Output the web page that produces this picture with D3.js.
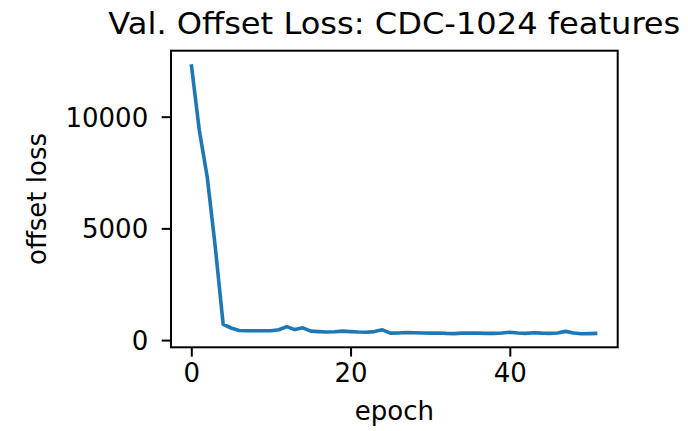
<!DOCTYPE html>
<html>
<head>
<meta charset="utf-8">
<script src="https://cdn.jsdelivr.net/npm/d3@7"></script>
<style>
  html, body { margin: 0; padding: 0; background: #fff; }
  svg { display: block; }
  text { font-family: "DejaVu Sans", sans-serif; fill: #000; }
</style>
</head>
<body>
<svg id="chart" width="688" height="431"></svg>
<script>
// Data
const epochs = d3.range(0, 52);
const offsetLoss = [
  12350, 9400, 7300, 4200, 700, 540, 430, 420, 420, 420,
  420, 460, 600, 470, 550, 400, 380, 360, 370, 400,
  380, 360, 350, 380, 460, 310, 320, 340, 330, 320,
  310, 320, 300, 290, 310, 320, 310, 300, 300, 320,
  350, 320, 300, 330, 310, 300, 320, 390, 320, 280,
  290, 300
];
const xTicks = [0, 20, 40];
const yTicks = [0, 5000, 10000];
const titleText = "Val. Offset Loss: CDC-1024 features";
const xLabel = "epoch";
const yLabel = "offset loss";

const svg = d3.select("#chart");
const mLeft = 171, mRight = 617.7, mTop = 50.7, mBottom = 347.3;

const xMin = d3.min(epochs), xMax = d3.max(epochs);
const xPad = (xMax - xMin) * 0.05;
const yMin = d3.min(offsetLoss), yMax = d3.max(offsetLoss);
const yPad = (yMax - yMin) * 0.05;

const x = d3.scaleLinear().domain([xMin - xPad, xMax + xPad]).range([mLeft, mRight]);
const y = d3.scaleLinear().domain([yMin - yPad, yMax + yPad]).range([mBottom, mTop]);

// line
const line = d3.line().x((d, i) => x(epochs[i])).y(d => y(d));
svg.append("path")
  .datum(offsetLoss)
  .attr("d", line)
  .attr("fill", "none")
  .attr("stroke", "#1f77b4")
  .attr("stroke-width", 3.6)
  .attr("stroke-linejoin", "round")
  .attr("stroke-linecap", "butt");

// axes
const fs = 26;
const xAxis = d3.axisBottom(x).tickValues(xTicks).tickSize(9.3).tickPadding(7).tickFormat(d3.format("d"));
const yAxis = d3.axisLeft(y).tickValues(yTicks).tickSize(9.3).tickPadding(13.5).tickFormat(d3.format("d"));

const gx = svg.append("g").attr("transform", `translate(0,${mBottom})`).call(xAxis);
const gy = svg.append("g").attr("transform", `translate(${mLeft},0)`).call(yAxis);
[gx, gy].forEach(g => {
  g.select(".domain").remove();
  g.selectAll(".tick line").attr("stroke", "#000").attr("stroke-width", 2);
  g.selectAll(".tick text").attr("font-size", fs).attr("font-family", "DejaVu Sans").attr("fill", "#000");
});
gy.selectAll(".tick text").attr("dy", "0.36em");
gx.selectAll(".tick text").attr("dy", "0.72em");

// frame
svg.append("rect")
  .attr("x", mLeft).attr("y", mTop)
  .attr("width", mRight - mLeft).attr("height", mBottom - mTop)
  .attr("fill", "none").attr("stroke", "#000").attr("stroke-width", 2);

// title
svg.append("text")
  .attr("x", (mLeft + mRight) / 2).attr("y", 34)
  .attr("text-anchor", "middle")
  .attr("font-size", 29.5)
  .attr("textLength", 572)
  .attr("lengthAdjust", "spacingAndGlyphs")
  .text(titleText);

// x label
svg.append("text")
  .attr("x", (mLeft + mRight) / 2).attr("y", 420)
  .attr("text-anchor", "middle")
  .attr("font-size", fs)
  .text(xLabel);

// y label
svg.append("text")
  .attr("transform", `translate(46,${(mTop + mBottom) / 2}) rotate(-90)`)
  .attr("text-anchor", "middle")
  .attr("font-size", fs)
  .text(yLabel);
</script>
</body>
</html>
